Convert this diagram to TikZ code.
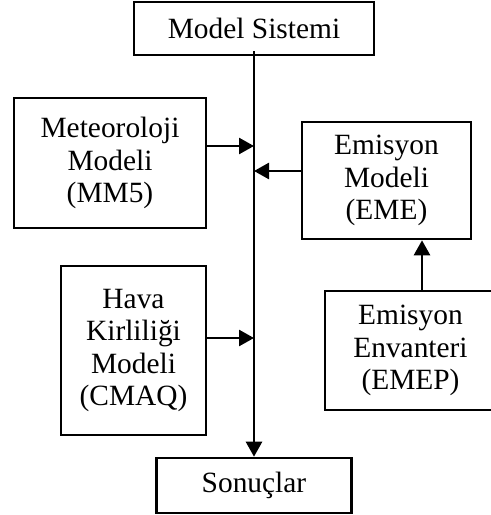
\documentclass[tikz,border=0pt]{standalone}
\usepackage{fontspec}
\setmainfont{Liberation Serif}
\usetikzlibrary{arrows.meta,positioning}

\begin{document}
\begin{tikzpicture}[x=0.5pt,y=-0.5pt,>={Triangle[length=7.5pt,width=8pt]},on grid,
    box/.style={draw,line width=1.3pt,align=center,inner sep=0pt,font=\fontsize{14.7}{16.3}\selectfont},
    arr/.style={->,line width=1.3pt}]
  \useasboundingbox (0,0) rectangle (491,515);

  \node[box,minimum width=120pt,minimum height=26.5pt] (sistem) at (254,28.5) {Model Sistemi};
  \node[box,minimum width=96pt,minimum height=65pt]    (meteo)  [below left=67.25pt and 72pt of sistem]     {Meteoroloji\\Modeli\\(MM5)};
  \node[box,minimum width=84.5pt,minimum height=58.5pt] (eme)   [below right=76pt and 66.25pt of sistem]    {Emisyon\\Modeli\\(EME)};
  \node[box,minimum width=72.5pt,minimum height=84.5pt] (hava)  [below left=161pt and 60.25pt of sistem]    {Hava\\Kirliliği\\Modeli\\(CMAQ)};
  \node[box,minimum width=85.5pt,minimum height=59.5pt] (emep)  [below right=161pt and 78.25pt of sistem]   {Emisyon\\Envanteri\\(EMEP)};
  \node[box,minimum width=97.5pt,minimum height=27.5pt] (sonuc) [below=228.5pt of sistem]                   {Sonuçlar};

  % main line
  \draw[arr] ([yshift=2.5pt]sistem.south) -- (sonuc);

  \coordinate (m) at ([yshift=8.5pt]meteo.east);
  \coordinate (e) at ([yshift=4.75pt]eme.west);
  \coordinate (h) at ([yshift=6.25pt]hava.east);
  \coordinate (v) at ([xshift=5.75pt]emep.north);
  \draw[arr] (m) -- (m -| sistem);
  \draw[arr] (e) -- (e -| sistem);
  \draw[arr] (h) -- (h -| sistem);
  \draw[arr] (v) -- (v |- eme.south);
\end{tikzpicture}
\end{document}
